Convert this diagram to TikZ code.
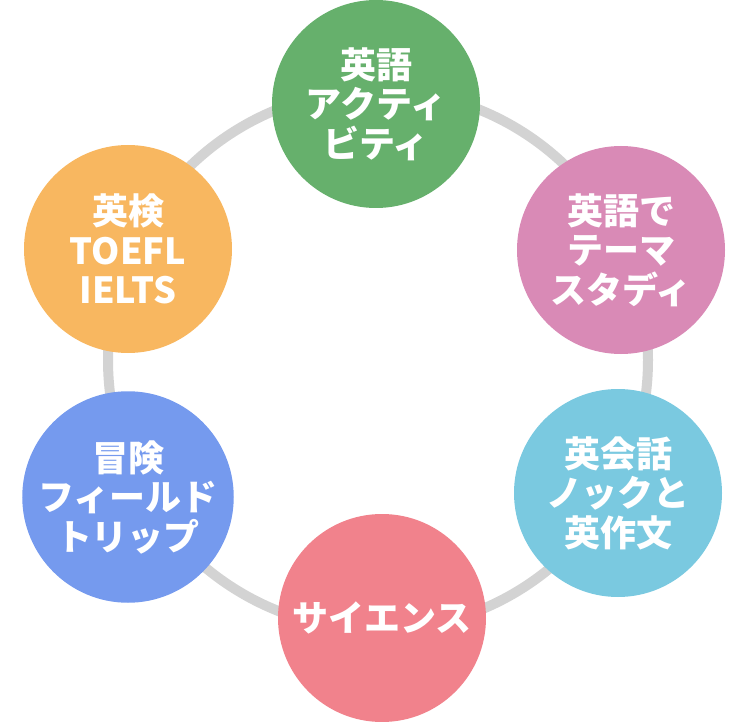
\documentclass[tikz,border=0pt]{standalone}
\usepackage{fontspec}
\setmainfont{Noto Sans CJK JP}
\definecolor{cgreen}{HTML}{66B06C}
\definecolor{cpink}{HTML}{D98AB6}
\definecolor{cblue}{HTML}{7AC9E0}
\definecolor{cred}{HTML}{F1828C}
\definecolor{cviolet}{HTML}{759AEE}
\definecolor{corange}{HTML}{F8B760}
\definecolor{cring}{HTML}{D3D3D3}
\begin{document}
\begin{tikzpicture}[x=1pt,y=-1pt,
  topic/.style={circle,fill=#1,minimum size=208pt,inner sep=0pt,text=white,
    align=center,font=\fontsize{36}{39.5}\selectfont\bfseries}]
\useasboundingbox (0,0) rectangle (750,722);
\coordinate (c) at (378,360);
\draw[cring,line width=10pt] (c) circle[radius=270];
\node[topic=cgreen]  (act) at (376,104) {英語\\アクティ\\ビティ};
\node[topic=cpink]   (thm) at (621,250) {英語で\\テーマ\\スタディ};
\node[topic=cblue]   (knk) at (618,493) {英会話\\ノックと\\英作文};
\node[topic=cred]    (sci) at (382,618) {サイエンス};
\node[topic=cviolet] (adv) at (128,497) {冒険\\フィールド\\トリップ};
\node[topic=corange] (exm) at (128,249) {英検\\TOEFL\\IELTS};
\end{tikzpicture}
\end{document}
